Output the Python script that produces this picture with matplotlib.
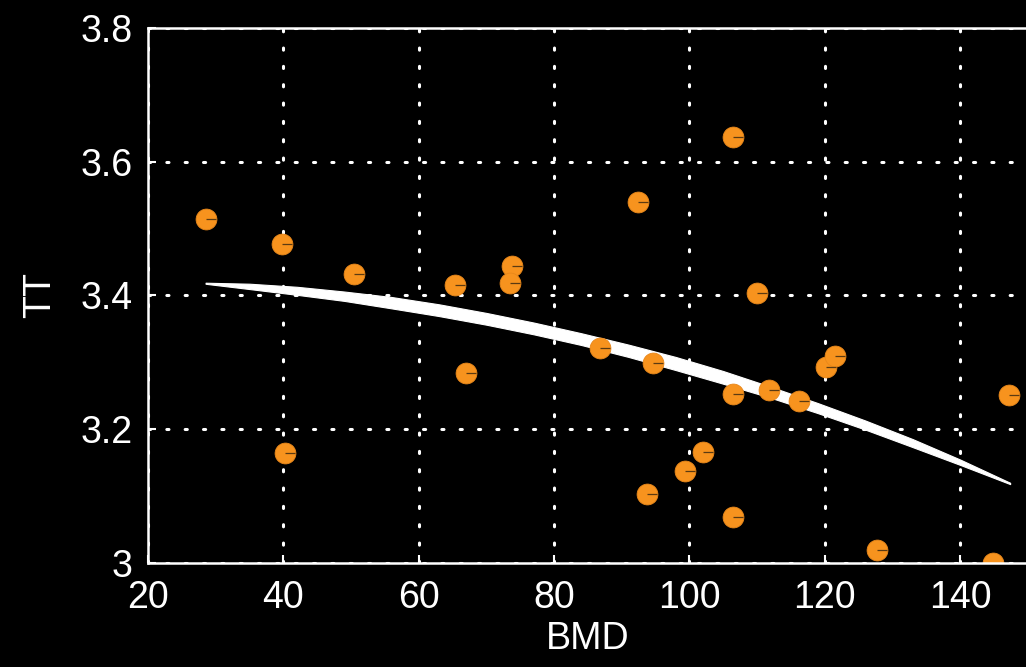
import matplotlib
matplotlib.use("Agg")
import matplotlib.pyplot as plt
from matplotlib.path import Path

# observed points
bmd = [28.6, 39.8, 40.2, 50.4, 65.4, 67.0, 73.8, 73.5, 86.8, 92.4, 93.7, 94.6, 99.4,
       102.0, 106.4, 106.4, 106.4, 110.0, 111.8, 116.2, 120.2, 121.5, 127.7, 144.9, 147.2]
tt = [3.514, 3.477, 3.164, 3.432, 3.416, 3.284, 3.444, 3.419, 3.321, 3.540, 3.103, 3.299, 3.138,
      3.166, 3.637, 3.253, 3.069, 3.404, 3.259, 3.242, 3.293, 3.310, 3.019, 3.000, 3.251]

# fitted band (upper / lower edge)
fit_x = [28.5, 35, 42, 49, 56, 63, 70, 77, 84, 91, 98, 105, 112, 119, 126, 133, 140, 147.4]
fit_hi = [3.4191, 3.4176, 3.4130, 3.4059, 3.3977, 3.3868, 3.3739, 3.3595, 3.3436,
          3.3265, 3.3080, 3.2870, 3.2635, 3.2390, 3.2130, 3.1852, 3.1547, 3.1199]
fit_lo = [3.4175, 3.4096, 3.4010, 3.3919, 3.3807, 3.3692, 3.3563, 3.3419, 3.3260,
          3.3081, 3.2884, 3.2680, 3.2471, 3.2240, 3.1994, 3.1732, 3.1467, 3.1179]

xticks = [20, 40, 60, 80, 100, 120, 140]
yticks = [3.0, 3.2, 3.4, 3.6, 3.8]
ytick_labels = ["3", "3.2", "3.4", "3.6", "3.8"]

plt.rcParams["font.family"] = ["Liberation Sans", "DejaVu Sans"]

fig = plt.figure(figsize=(10.26, 6.67), dpi=100, facecolor="black")
ax = fig.add_axes([0.1443, 0.156, 0.8574, 0.802], facecolor="black")

ax.fill_between(fit_x, fit_lo, fit_hi, color="white", linewidth=0.8, edgecolor="white", zorder=2)

orange = "#F7931E"
ax.plot(bmd, tt, linestyle="none", marker="o", markersize=15,
        markerfacecolor=orange, markeredgecolor="#E8871A", markeredgewidth=0.6, zorder=3)
radius = Path([(0, 0), (1, 0)], [Path.MOVETO, Path.LINETO])
ax.plot(bmd, tt, linestyle="none", marker=radius, markersize=15,
        markeredgecolor="#5a3a12", markeredgewidth=0.9, zorder=4)

ax.set_xlim(20, 150)
ax.set_ylim(3.0, 3.8)
ax.set_xticks(xticks)
ax.set_yticks(yticks)
ax.set_yticklabels(ytick_labels)

ax.grid(True, color="white", linestyle=(0, (0.7, 5.3)), linewidth=2.2,
        dash_capstyle="round", zorder=1)
ax.set_axisbelow(True)

for sp in ax.spines.values():
    sp.set_color("white")
    sp.set_linewidth(1.8)
    sp.set_zorder(5)

ax.tick_params(axis="both", direction="in", colors="white", length=6, width=1.5,
               labelsize=27, labelcolor="white")
ax.tick_params(axis="x", pad=12)
ax.tick_params(axis="y", pad=11)

ax.set_xlabel("BMD", fontsize=27, color="white", labelpad=4)
ax.set_ylabel("TT", fontsize=27, color="white", labelpad=16)

fig.savefig("out.png", dpi=100, facecolor="black")
